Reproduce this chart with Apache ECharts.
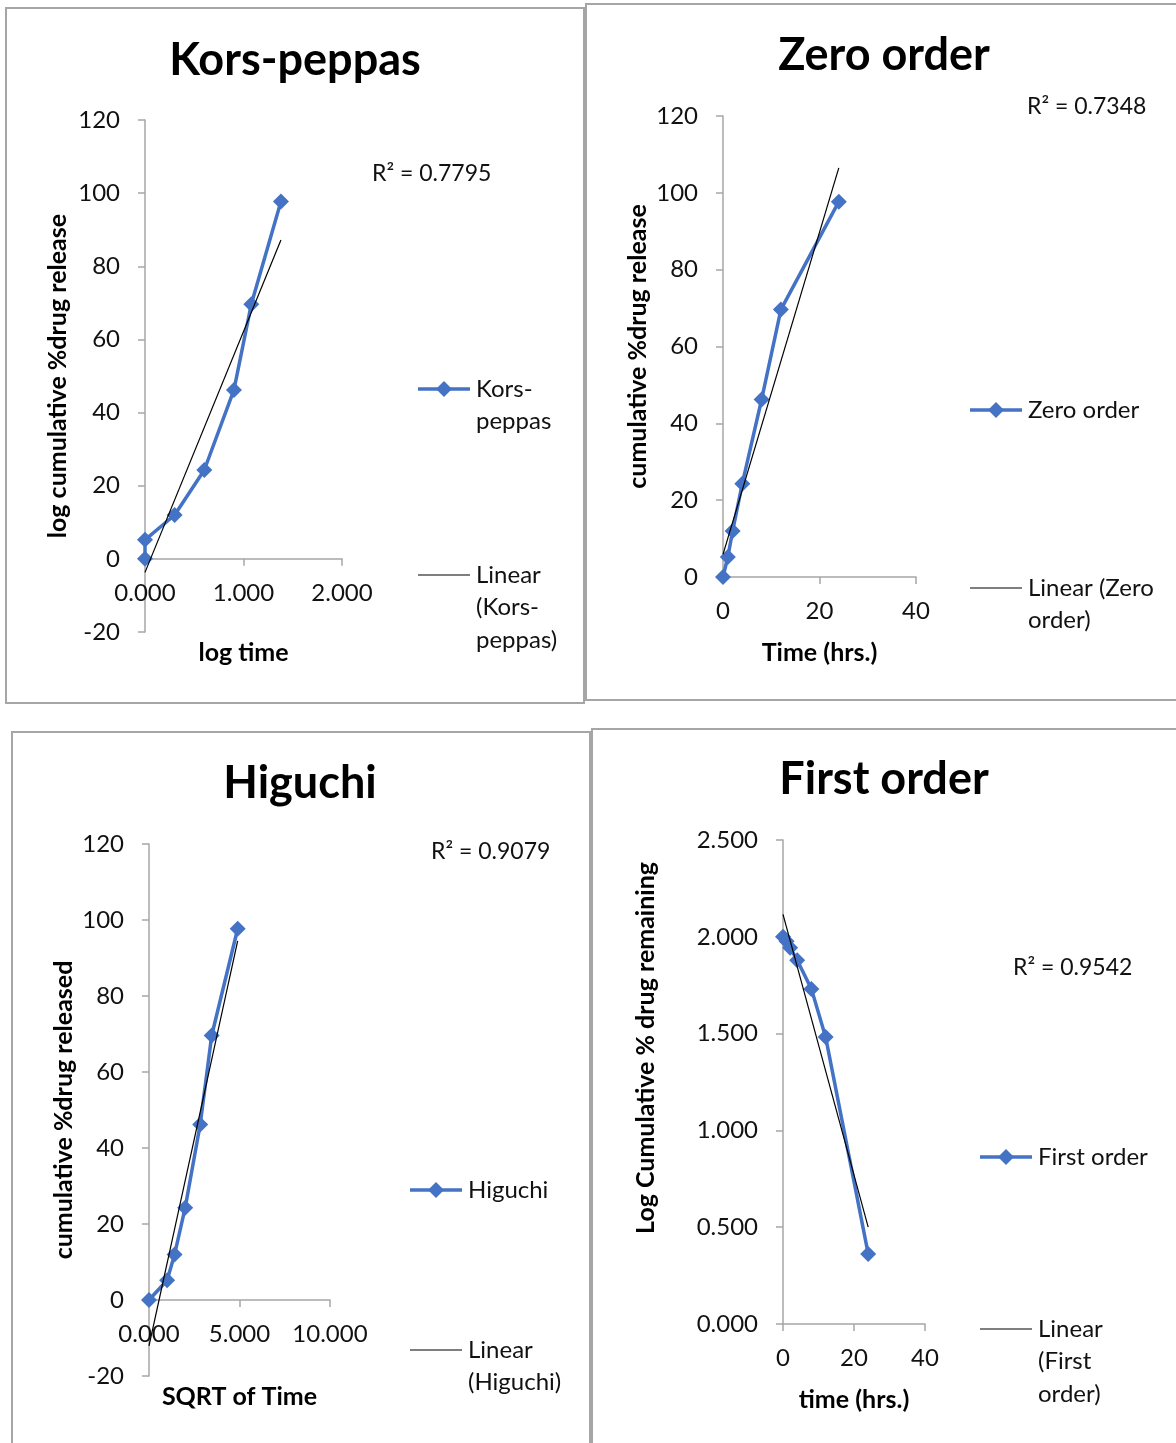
<!DOCTYPE html>
<html>
<head>
<meta charset="utf-8">
<title>Drug release kinetics</title>
<script src="https://cdn.jsdelivr.net/npm/echarts@6/dist/echarts.min.js"></script>
<style>
  html, body { margin: 0; padding: 0; background: #fff; }
  #chart { width: 1176px; height: 1443px; }
</style>
</head>
<body>
<div id="chart"></div>
<script>
// Sampling times (hrs.) and cumulative % drug released
const timeHrs = [0, 1, 2, 4, 8, 12, 24];
const releasePct = [0, 5.2, 12, 24.3, 46.2, 69.6, 97.7];

// Korsmeyer-Peppas: log time vs cumulative % released
const logTime = [0, 0, 0.301, 0.602, 0.903, 1.079, 1.380];
// Higuchi: square root of time
const sqrtTime = [0, 1, 1.414, 2, 2.828, 3.464, 4.899];
// First order: log of % drug remaining
const logRemaining = [2.000, 1.977, 1.944, 1.879, 1.731, 1.483, 0.362];

// Linear trendline end points [x, y]
const trendKP = [[0, -3.7], [1.380, 87.2]];
const trendZero = [[0, 5.9], [24, 106.5]];
const trendHiguchi = [[0, -12.1], [4.899, 94.5]];
const trendFirst = [[0, 2.116], [24, 0.500]];

// R² labels
const r2Labels = ['R² = 0.7795', 'R² = 0.7348', 'R² = 0.9079', 'R² = 0.9542'];

const FONT = 'Lato, "Open Sans", sans-serif';
const BLUE = '#4472C4';
const AXIS_GRAY = '#A6A6A6';

const pairs = (xs, ys) => xs.map((x, i) => [x, ys[i]]);

// Plot areas (pixels) and value ranges of each panel
const grids = [
  { left: 145, top: 120, width: 197, height: 512, yMin: -20, yMax: 120 },
  { left: 723, top: 116, width: 193, height: 461, yMin: 0, yMax: 120 },
  { left: 149, top: 844, width: 181, height: 532, yMin: -20, yMax: 120 },
  { left: 783, top: 840, width: 142, height: 484, yMin: 0, yMax: 2.5 }
];

// The horizontal axis crosses the vertical one at y = 0
const zeroOffset = g => -g.height * (0 - g.yMin) / (g.yMax - g.yMin);

function xAxisCfg(idx, min, max, interval, name, gap, decimals) {
  return {
    gridIndex: idx, type: 'value', min, max, interval,
    offset: zeroOffset(grids[idx]),
    name, nameLocation: 'middle', nameGap: gap,
    nameTextStyle: { fontFamily: FONT, fontWeight: 'bold', fontSize: 25, color: '#000' },
    axisLine: { show: true, onZero: false, lineStyle: { color: AXIS_GRAY, width: 1.5 } },
    axisTick: { show: true, inside: false, length: 7, lineStyle: { color: AXIS_GRAY, width: 1.5 } },
    axisLabel: {
      margin: 22, fontFamily: FONT, fontSize: 24, color: '#111',
      formatter: v => v.toFixed(decimals)
    },
    splitLine: { show: false }
  };
}

function yAxisCfg(idx, interval, name, gap, decimals, shiftUp) {
  const g = grids[idx];
  return {
    gridIndex: idx, type: 'value', min: g.yMin, max: g.yMax, interval,
    name, nameLocation: 'middle', nameGap: gap, nameRotate: 90,
    nameTextStyle: {
      fontFamily: FONT, fontWeight: 'bold', fontSize: 25, color: '#000',
      padding: [0, 0, 0, 2 * (shiftUp || 0)]
    },
    axisLine: { show: true, onZero: false, lineStyle: { color: AXIS_GRAY, width: 1.5 } },
    axisTick: { show: true, inside: false, length: 7, lineStyle: { color: AXIS_GRAY, width: 1.5 } },
    axisLabel: {
      margin: 25, fontFamily: FONT, fontSize: 24, color: '#111',
      formatter: v => v.toFixed(decimals)
    },
    splitLine: { show: false }
  };
}

function dataSeries(idx, name, data) {
  return {
    name, type: 'line', xAxisIndex: idx, yAxisIndex: idx, data,
    symbol: 'diamond', symbolSize: 16, showSymbol: true,
    lineStyle: { color: BLUE, width: 3.5 },
    itemStyle: { color: BLUE },
    animation: false, z: 3
  };
}

function trendSeries(idx, name, data) {
  return {
    name, type: 'line', xAxisIndex: idx, yAxisIndex: idx, data,
    symbol: 'none', lineStyle: { color: '#000', width: 1.2 },
    animation: false, silent: true, z: 4
  };
}

// Panel frame
function frame(x, y, w, h) {
  return { type: 'rect', shape: { x, y, width: w, height: h }, style: { fill: 'none', stroke: AXIS_GRAY, lineWidth: 2 }, silent: true, z: 0 };
}

function text(x, y, str, opts) {
  return {
    type: 'text', x, y, silent: true, z: 10,
    style: Object.assign({ text: str, fill: '#111', font: '24px ' + FONT, textVerticalAlign: 'middle', textAlign: 'left' }, opts || {})
  };
}

// Legend entry: sample line (with marker for the data series) and stacked text lines
function legendEntry(x, y, lines, withMarker) {
  const els = [{
    type: 'line', silent: true, z: 10,
    shape: { x1: x, y1: y, x2: x + 52, y2: y },
    style: { stroke: withMarker ? BLUE : '#000', lineWidth: withMarker ? 3.5 : 1.2 }
  }];
  if (withMarker) {
    els.push({
      type: 'polygon', silent: true, z: 11,
      shape: { points: [[x + 26, y - 8], [x + 34, y], [x + 26, y + 8], [x + 18, y]] },
      style: { fill: BLUE }
    });
  }
  lines.forEach((ln, i) => els.push(text(x + 58, y + i * 32.5, ln)));
  return els;
}

const titles = [
  { text: 'Kors-peppas', left: 295, cy: 60 },
  { text: 'Zero order', left: 884, cy: 55 },
  { text: 'Higuchi', left: 300, cy: 783 },
  { text: 'First order', left: 884, cy: 779 }
].map(t => ({
  text: t.text, left: t.left - 5, top: t.cy - 27, textAlign: 'center',
  textStyle: { fontFamily: FONT, fontWeight: 'bold', fontSize: 45, color: '#000' }
}));

const option = {
  backgroundColor: '#fff',
  animation: false,
  title: titles,
  grid: grids.map(g => ({ left: g.left, top: g.top, width: g.width, height: g.height, containLabel: false, outerBoundsMode: 'none' })),
  xAxis: [
    xAxisCfg(0, 0, 2, 1, 'log time', 82, 3),
    xAxisCfg(1, 0, 40, 20, 'Time (hrs.)', 63, 0),
    xAxisCfg(2, 0, 10, 5, 'SQRT of Time', 84, 3),
    xAxisCfg(3, 0, 40, 20, 'time (hrs.)', 63, 0)
  ],
  yAxis: [
    yAxisCfg(0, 20, 'log cumulative %drug release', 75, 0),
    yAxisCfg(1, 20, 'cumulative %drug release', 73, 0),
    yAxisCfg(2, 20, 'cumulative %drug released', 73, 0),
    yAxisCfg(3, 0.5, 'Log Cumulative % drug remaining', 125, 3, 34)
  ],
  series: [
    dataSeries(0, 'Kors-peppas', pairs(logTime, releasePct)),
    trendSeries(0, 'Linear (Kors-peppas)', trendKP),
    dataSeries(1, 'Zero order', pairs(timeHrs, releasePct)),
    trendSeries(1, 'Linear (Zero order)', trendZero),
    dataSeries(2, 'Higuchi', pairs(sqrtTime, releasePct)),
    trendSeries(2, 'Linear (Higuchi)', trendHiguchi),
    dataSeries(3, 'First order', pairs(timeHrs, logRemaining)),
    trendSeries(3, 'Linear (First order)', trendFirst)
  ],
  graphic: [
    frame(6, 8, 578, 695),
    frame(586, 4, 600, 696),
    frame(12, 732, 578, 730),
    frame(592, 729, 600, 730),
    text(372, 174, r2Labels[0], { font: '23px ' + FONT }),
    text(1027, 107, r2Labels[1], { font: '23px ' + FONT }),
    text(431, 852, r2Labels[2], { font: '23px ' + FONT }),
    text(1013, 968, r2Labels[3], { font: '23px ' + FONT }),
    ...legendEntry(418, 389, ['Kors-', 'peppas'], true),
    ...legendEntry(418, 575, ['Linear', '(Kors-', 'peppas)'], false),
    ...legendEntry(970, 410, ['Zero order'], true),
    ...legendEntry(970, 588, ['Linear (Zero', 'order)'], false),
    ...legendEntry(410, 1190, ['Higuchi'], true),
    ...legendEntry(410, 1350, ['Linear', '(Higuchi)'], false),
    ...legendEntry(980, 1157, ['First order'], true),
    ...legendEntry(980, 1329, ['Linear', '(First', 'order)'], false)
  ]
};

const chart = echarts.init(document.getElementById('chart'), null, { renderer: 'canvas' });
chart.setOption(option);
</script>
</body>
</html>
